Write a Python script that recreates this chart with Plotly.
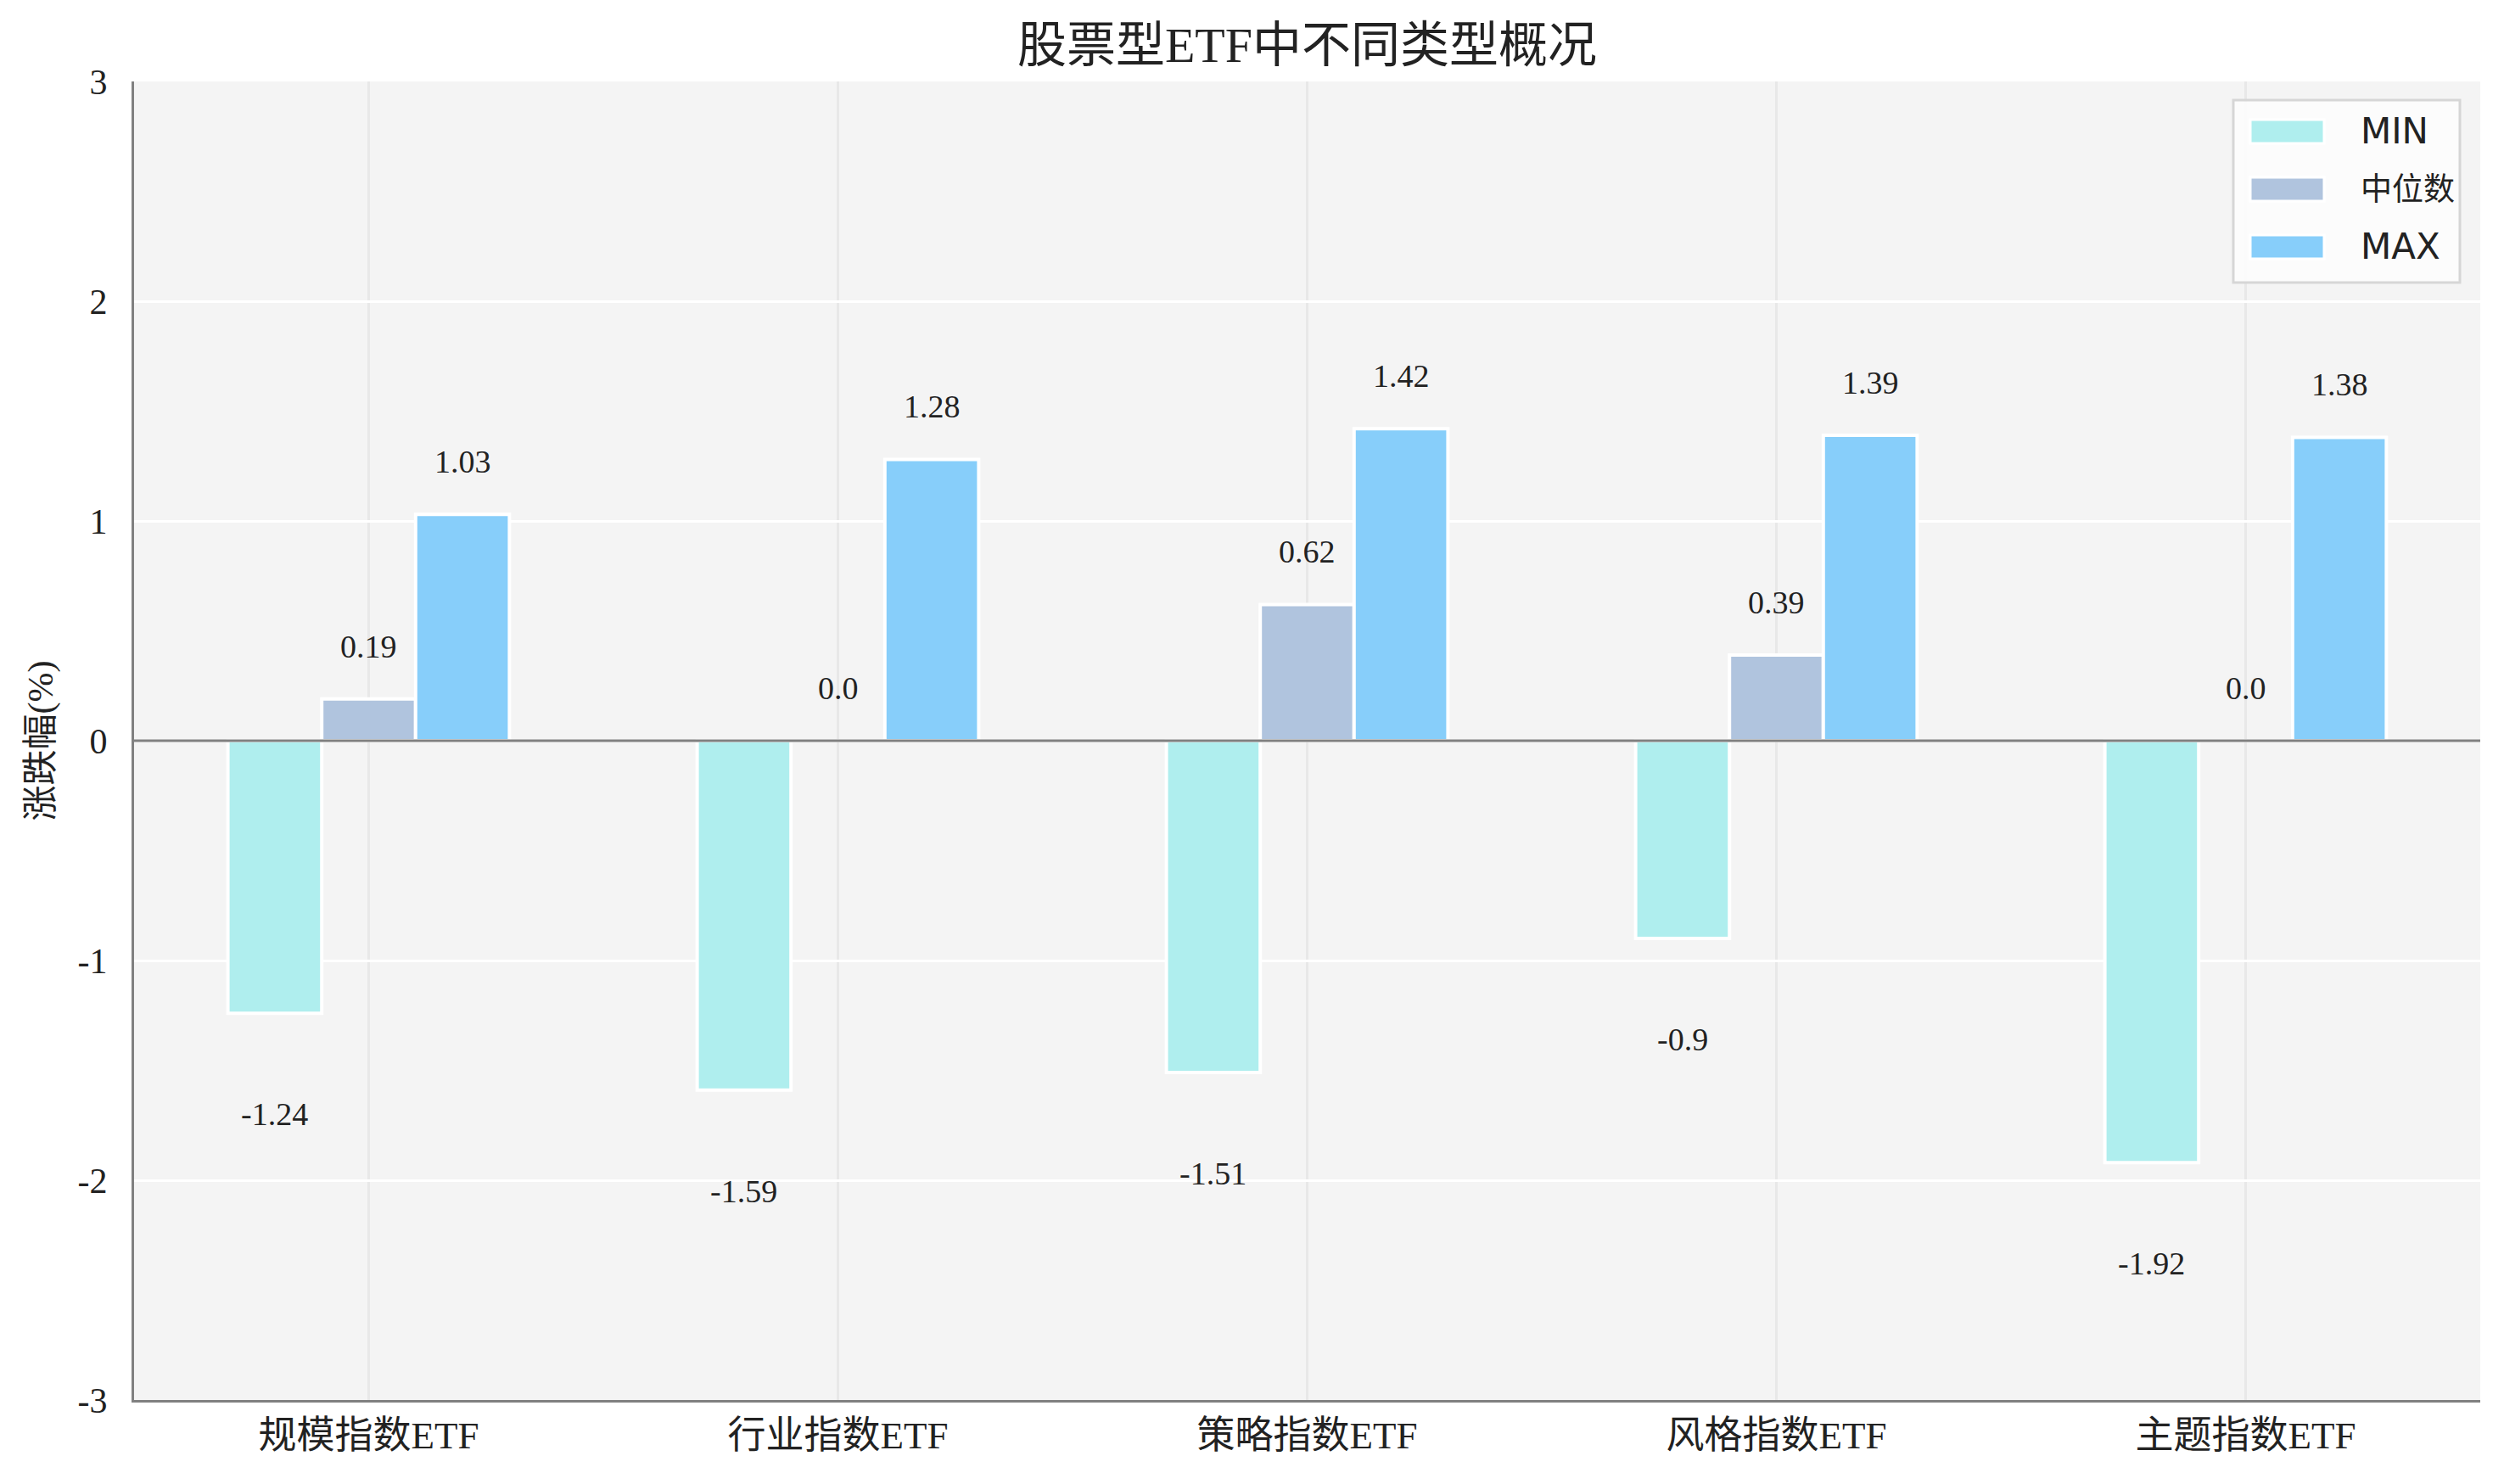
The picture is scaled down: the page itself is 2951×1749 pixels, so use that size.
import plotly.graph_objects as go

categories = ["规模指数ETF", "行业指数ETF", "策略指数ETF", "风格指数ETF", "主题指数ETF"]
series_names = ["MIN", "中位数", "MAX"]
min_vals = [-1.24, -1.59, -1.51, -0.9, -1.92]
median_vals = [0.19, 0.0, 0.62, 0.39, 0.0]
max_vals = [1.03, 1.28, 1.42, 1.39, 1.38]
colors = ["#afeeee", "#b0c4de", "#87cefa"]
y_ticks = [3, 2, 1, 0, -1, -2, -3]
y_ticktext = ["3", "2", "1", "0", "-1", "-2", "-3"]

SERIF = "Liberation Serif, Noto Sans CJK SC, serif"
W, H = 2951, 1749
L, R, T, B = 158, 28, 96, 99


def px_x(X):
    return (X - L) / (W - L - R)


def px_y(Y):
    return (H - B - Y) / (H - T - B)


fig = go.Figure()
idx = list(range(len(categories)))
all_series = [min_vals, median_vals, max_vals]
for name, vals, col in zip(series_names, all_series, colors):
    fig.add_trace(go.Bar(
        x=idx, y=vals, name=name,
        marker=dict(color=col, line=dict(color="white", width=4)),
        hoverinfo="y", showlegend=False,
    ))

offsets = [-0.2, 0.0, 0.2]
for off, vals in zip(offsets, all_series):
    for i, v in zip(idx, vals):
        ypos = v + 0.24 if v >= 0 else v - 0.46
        fig.add_annotation(
            x=i + off, y=ypos, text=str(v), showarrow=False,
            xref="x", yref="y", xanchor="center", yanchor="middle",
            font=dict(family=SERIF, size=38, color="#222222"),
        )

# zero reference line drawn above bars
fig.add_shape(type="line", xref="paper", yref="y", x0=0, x1=1, y0=0, y1=0,
              line=dict(color="#808080", width=3), layer="above")

# legend box (drawn manually so patches match the reference size)
fig.add_shape(type="rect", xref="paper", yref="paper",
              x0=px_x(2632), x1=px_x(2899), y0=px_y(333), y1=px_y(118),
              fillcolor="rgba(252,252,252,0.95)", line=dict(color="#d6d6d6", width=3),
              layer="above")
for k, (name, col) in enumerate(zip(series_names, colors)):
    cy = 155 + 68 * k
    fig.add_shape(type="rect", xref="paper", yref="paper",
                  x0=px_x(2652), x1=px_x(2739), y0=px_y(cy + 14), y1=px_y(cy - 14),
                  fillcolor=col, line=dict(color="white", width=3), layer="above")
    is_cjk = any(ord(ch) > 0x2E80 for ch in name)
    fig.add_annotation(x=px_x(2780), y=px_y(cy), xref="paper", yref="paper",
                       text=name, showarrow=False, xanchor="left", yanchor="middle",
                       font=dict(family="DejaVu Sans, Noto Sans CJK SC",
                                 size=37 if is_cjk else 42, color="#222222"))

fig.update_layout(
    width=W, height=H,
    margin=dict(l=L, r=R, t=T, b=B),
    paper_bgcolor="white",
    plot_bgcolor="#f4f4f4",
    barmode="group", bargap=0.4, bargroupgap=0,
    title=dict(text="股票型ETF中不同类型概况", x=0.5, xref="paper", y=1 - 53 / H,
               yanchor="middle", xanchor="center",
               font=dict(family=SERIF, size=58, color="#222222")),
    showlegend=False,
)

fig.update_xaxes(
    range=[-0.5, 4.5], tickmode="array", tickvals=idx, ticktext=categories,
    tickfont=dict(family=SERIF, size=45, color="#222222"),
    showgrid=True, gridcolor="#e8e8e8", gridwidth=3,
    showline=True, linecolor="#808080", linewidth=3,
    ticks="", zeroline=False, mirror=False,
)
fig.update_yaxes(
    range=[-3, 3], tickmode="array", tickvals=y_ticks, ticktext=y_ticktext,
    tickfont=dict(family=SERIF, size=42, color="#222222"),
    showgrid=True, gridcolor="white", gridwidth=3,
    zeroline=False,
    showline=True, linecolor="#808080", linewidth=3,
    ticks="", ticklabelstandoff=20,
    title=dict(text="涨跌幅(%)", font=dict(family=SERIF, size=42, color="#222222"), standoff=16),
)

fig.write_html("out.html")
